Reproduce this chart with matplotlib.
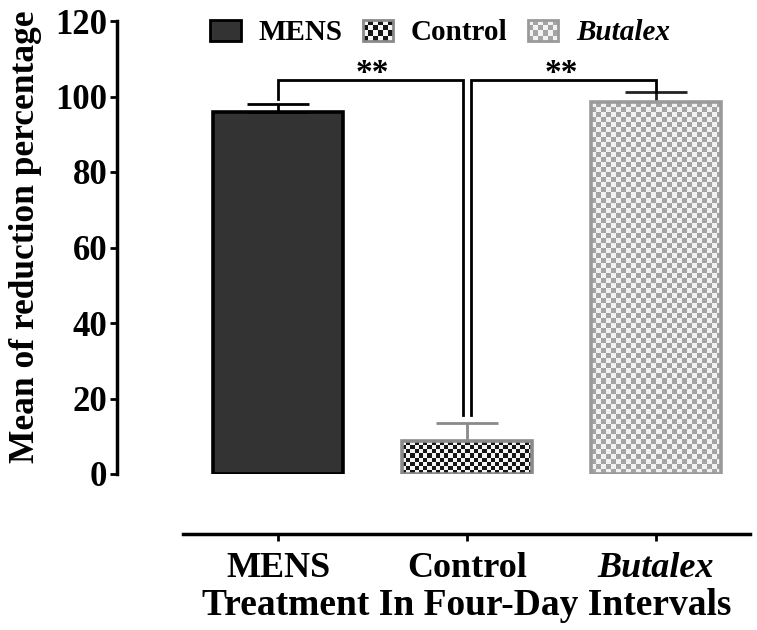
import numpy as np
import matplotlib
matplotlib.use("Agg")
import matplotlib.pyplot as plt
from matplotlib.colors import ListedColormap
from matplotlib.patches import Patch, Rectangle
from matplotlib.legend_handler import HandlerBase

# ---------------- data ----------------
categories = ["MENS", "Control", "Butalex"]
means = [95.9, 8.7, 98.5]
errors = [2.1, 4.8, 2.7]
yticks = [0, 20, 40, 60, 80, 100, 120]
sig_pairs = [(0, 1), (1, 2)]
sig_labels = ["**", "**"]
sig_level = 104.4
ylabel = "Mean of reduction percentage"
xlabel = "Treatment In Four-Day Intervals"

# ---------------- style ----------------
plt.rcParams["font.family"] = ["Liberation Serif", "DejaVu Serif"]
plt.rcParams["font.weight"] = "bold"

fig = plt.figure(figsize=(7.57, 6.30), dpi=100)
ax = fig.add_axes([117 / 757, (630 - 474) / 630, 637 / 757, 453 / 630])
ax.set_xlim(-0.852, 2.52)
ax.set_ylim(0, 120)

x = np.arange(len(categories))
width = 0.69
face = ["#333333", "white", "white"]
edge = ["#000000", "#8a8a8a", "#9a9a9a"]
checker = [None, ("#151515", "#f4f4f4"), ("#a4a4a4", "#f2f2f2")]
cell_px = [0, 4.2, 5.0]
err_col = ["#000000", "#8a8a8a", "#222222"]

bars = ax.bar(x, means, width=width, color=face, edgecolor="none", zorder=2)

# checkerboard fills clipped to bars
for b, chk, cp in zip(bars, checker, cell_px):
    if chk is None:
        continue
    x0, y0 = b.get_x(), b.get_y()
    x1, y1 = x0 + b.get_width(), y0 + b.get_height()
    p0 = ax.transData.transform((x0, y0))
    p1 = ax.transData.transform((x1, y1))
    nx = max(1, int(round((p1[0] - p0[0]) / cp)))
    ny = max(1, int(round((p1[1] - p0[1]) / cp)))
    arr = np.indices((ny, nx)).sum(axis=0) % 2
    im = ax.imshow(arr, cmap=ListedColormap([chk[0], chk[1]]),
                   extent=(x0, x1, y0, y1), origin="lower",
                   aspect="auto", interpolation="nearest", zorder=2.5)
    im.set_clip_path(b)
ax.set_xlim(-0.852, 2.52)
ax.set_ylim(0, 120)

# outlines
ax.bar(x, means, width=width, fill=False, edgecolor=edge, linewidth=2.6, zorder=3)

# error bars (upper only)
for xi, m, e, c in zip(x, means, errors, err_col):
    ax.errorbar(xi, m, yerr=[[0], [e]], fmt="none", ecolor=c,
                elinewidth=2, capsize=22, capthick=2, zorder=2.2)

# significance brackets
off = 0.022
for (a, b_), lab in zip(sig_pairs, sig_labels):
    xa = a + (off if a == 1 else 0)
    xb = b_ - (off if b_ == 1 else 0)
    ya = means[a] + errors[a] + (1.4 if a != 1 else 2.0)
    yb = means[b_] + errors[b_] + (1.4 if b_ != 1 else 2.0)
    if a == 2:
        ya = means[a] + errors[a]
    if b_ == 2:
        yb = means[b_] + errors[b_]
    ax.plot([xa, xa, xb, xb], [ya, sig_level, sig_level, yb],
            color="black", lw=2, solid_joinstyle="miter", zorder=4, clip_on=False)
    ax.text((a + b_) / 2, sig_level - 0.6, lab, ha="center", va="baseline",
            fontsize=24, fontweight="bold", zorder=5)

# axes styling
for s in ["top", "right"]:
    ax.spines[s].set_visible(False)
ax.spines["left"].set_linewidth(2.5)
ax.spines["bottom"].set_linewidth(2.5)
ax.spines["bottom"].set_position(("outward", 43))
ax.spines["bottom"].set_bounds(-0.5, 2.5)
ax.set_yticks(yticks)
ax.set_yticklabels([str(v) for v in yticks])
ax.set_xticks(x)
ax.set_xticklabels(categories)
ax.tick_params(axis="y", direction="out", length=5, width=2, labelsize=25, pad=2)
ax.tick_params(axis="x", direction="out", length=5, width=2, labelsize=26, pad=8)
for t in ax.get_xticklabels() + ax.get_yticklabels():
    t.set_fontweight("bold")
ax.get_xticklabels()[2].set_style("italic")
ax.set_ylabel(ylabel, fontsize=25.5, fontweight="bold")
ax.yaxis.set_label_coords(-0.118, (474 - 237) / 453)
ax.set_xlabel(xlabel, fontsize=27, fontweight="bold", labelpad=0)
ax.xaxis.set_label_coords((467 - 117) / 637, -0.252)


# legend with checker patches
class CheckerHandler(HandlerBase):
    def __init__(self, c1, c2, ec, nx=6, ny=4):
        super().__init__()
        self.c1, self.c2, self.ec, self.nx, self.ny = c1, c2, ec, nx, ny

    def create_artists(self, legend, orig_handle, xdescent, ydescent,
                       width, height, fontsize, trans):
        arts = []
        w = width / self.nx
        h = height / self.ny
        for i in range(self.nx):
            for j in range(self.ny):
                arts.append(Rectangle((-xdescent + i * w, -ydescent + j * h), w, h,
                                      facecolor=self.c1 if (i + j) % 2 == 0 else self.c2,
                                      edgecolor="none", transform=trans))
        arts.append(Rectangle((-xdescent, -ydescent), width, height, fill=False,
                              edgecolor=self.ec, linewidth=2, transform=trans))
        return arts


handles = [Patch(facecolor=face[0], edgecolor=edge[0], linewidth=2)]
hmap = {}
for i in (1, 2):
    h = Patch(facecolor="white", edgecolor=edge[i])
    hmap[h] = CheckerHandler(checker[i][0], checker[i][1], edge[i])
    handles.append(h)

leg = fig.legend(handles, categories, loc="center", bbox_to_anchor=(440 / 757, 1 - 33 / 630),
                 ncol=3, frameon=False, handlelength=1.05, handleheight=0.75,
                 handletextpad=0.6, columnspacing=0.7, handler_map=hmap,
                 prop={"weight": "bold", "size": 21})
leg.get_texts()[2].set_style("italic")

fig.savefig("out.png", dpi=100)
